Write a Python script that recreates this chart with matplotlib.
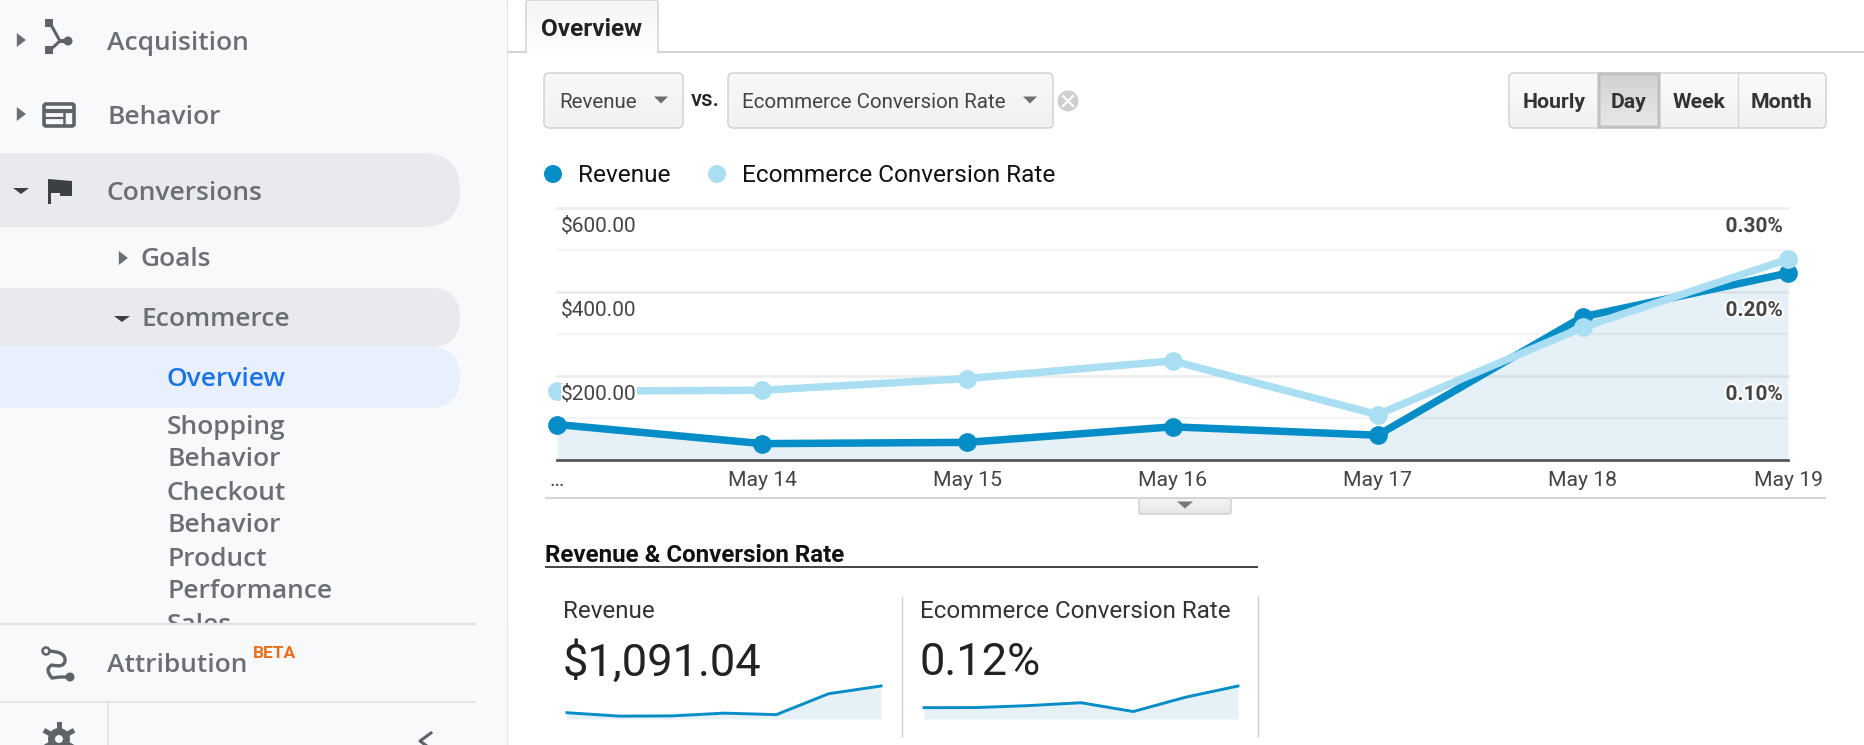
import matplotlib.colors as mcolors
import matplotlib.patheffects as pe
import matplotlib.pyplot as plt
import numpy as np
from matplotlib.patches import Circle, FancyBboxPatch, PathPatch, Polygon, Rectangle
from matplotlib.path import Path

plt.rcParams["font.family"] = ["Roboto", "DejaVu Sans"]

# Data
days = ["…", "May 14", "May 15", "May 16", "May 17", "May 18", "May 19"]
revenue = [84.5, 39, 42, 79, 59, 341, 445]
conv_rate = [0.082, 0.083, 0.097, 0.118, 0.054, 0.158, 0.239]
revenue_ticks = [200, 400, 600]
revenue_labels = ["$200.00", "$400.00", "$600.00"]
rate_ticks = [0.1, 0.2, 0.3]
rate_labels = ["0.10%", "0.20%", "0.30%"]
minor_ticks = [100, 300, 500]

BLUE = "#058dc7"
LIGHT = "#aadff3"
FILL = "#e5f1f7"
SIDE = "#f8f9fa"
SIDE_TXT = "#6b6e72"
W, H = 1865, 745

fig = plt.figure(figsize=(W / 100, H / 100), dpi=100, facecolor="white")

# Background axes in pixel coordinates, for the page around the chart
bg = fig.add_axes([0, 0, 1, 1])
bg.set_xlim(0, W)
bg.set_ylim(H, 0)
bg.axis("off")


def rect(x0, y0, x1, y1, color, z=1):
    bg.add_patch(Rectangle((x0, y0), x1 - x0, y1 - y0, fc=color, ec="none", zorder=z))


def hline(x0, x1, y, color="#cccccc", lw=1.0, z=3):
    bg.plot([x0, x1], [y, y], color=color, lw=lw, zorder=z, solid_capstyle="butt")


def vline(x, y0, y1, color="#cccccc", lw=1.0, z=3):
    bg.plot([x, x], [y0, y1], color=color, lw=lw, zorder=z, solid_capstyle="butt")


def pill(y0, y1, color, right=460):
    r = (y1 - y0) / 2
    rect(0, y0, right - r, y1, color, z=2)
    bg.add_patch(
        FancyBboxPatch(
            (right - 2 * r, y0), 2 * r, y1 - y0,
            boxstyle=f"round,pad=0,rounding_size={r}", fc=color, ec="none", zorder=2,
        )
    )


def tri_right(x, y, color="#6b6e72", s=7):
    bg.add_patch(Polygon([(x - s * 0.6, y - s), (x + s * 0.7, y), (x - s * 0.6, y + s)], fc=color, ec="none", zorder=8))


def tri_down(x, y, color="#3c4043", s=8, h=6):
    bg.add_patch(Polygon([(x - s, y - h / 2), (x + s, y - h / 2), (x, y + h / 2)], fc=color, ec="none", zorder=8))


def gradient_box(x0, y0, x1, y1, top="#ffffff", bottom="#f1f1f1", edge="#cfcfcf", r=5, lw=1.0):
    box = FancyBboxPatch(
        (x0, y0), x1 - x0, y1 - y0, boxstyle=f"round,pad=0,rounding_size={r}",
        fc="none", ec=edge, lw=lw, zorder=5,
    )
    bg.add_patch(box)
    shade = np.linspace(0, 1, 32).reshape(-1, 1)
    c0 = np.array(mcolors.to_rgb(top))
    c1 = np.array(mcolors.to_rgb(bottom))
    img = c0 + (c1 - c0) * shade[..., None]
    im = bg.imshow(img, extent=(x0, x1, y1, y0), aspect="auto", zorder=4)
    im.set_clip_path(box)
    bg.set_xlim(0, W)
    bg.set_ylim(H, 0)


# Sidebar
rect(0, 0, 507, H, SIDE)
vline(507, 0, H, "#e4e6e8")
pill(153, 227, "#e8eaed")
pill(288, 347, "#e8eaed")
pill(347, 408, "#e8f0fe")

side_items = [
    ("Acquisition", 107, 43),
    ("Behavior", 107, 117),
    ("Conversions", 107, 193),
    ("Goals", 141, 260),
    ("Ecommerce", 141, 320),
    ("Shopping", 167, 428),
    ("Behavior", 167, 460),
    ("Checkout", 167, 493),
    ("Behavior", 167, 526),
    ("Product", 167, 559),
    ("Performance", 167, 592),
    ("Sales", 167, 625),
]
for label, x, y in side_items:
    bg.text(x, y, label, fontsize=19, color=SIDE_TXT, va="center", family="Open Sans", weight=600, zorder=3)
bg.text(167, 380, "Overview", fontsize=19, color="#1a73e8", va="center", family="Open Sans", weight=600, zorder=3)

# Covers the bottom of the scrolled list
rect(0, 624, 507, H, SIDE, z=4)
hline(0, 476, 624, "#dfe1e3", 1.6, z=5)
hline(0, 476, 702, "#dfe1e3", 1.2, z=5)
vline(108, 702, H, "#dfe1e3", 1.2, z=5)
bg.text(107, 666, "Attribution", fontsize=19, color=SIDE_TXT, va="center", family="Open Sans", weight=600, zorder=6)
bg.text(253, 653, "BETA", fontsize=12.5, color="#e8711a", va="center", weight="bold", zorder=6)

tri_right(21, 40)
tri_right(21, 114)
tri_down(21, 191)
tri_right(123, 258)
tri_down(122, 319)

# Acquisition icon
bg.add_patch(Rectangle((45, 19), 8, 8, fc="#5f6368", zorder=4))
bg.add_patch(Rectangle((45, 46), 8, 8, fc="#5f6368", zorder=4))
bg.add_patch(Circle((68, 41), 4.5, fc="#5f6368", zorder=4))
bg.plot([50, 60, 68, 60, 50], [23, 41, 41, 41, 50], color="#5f6368", lw=2.2, zorder=4)
# Behavior icon
bg.add_patch(FancyBboxPatch((44, 104), 30, 22, boxstyle="round,pad=0,rounding_size=2", fc="none", ec="#5f6368", lw=2.6, zorder=4))
hline(44, 74, 111, "#5f6368", 3, z=4)
hline(45, 64, 118, "#5f6368", 1.6, z=4)
vline(64, 111, 125, "#5f6368", 1.8, z=4)
# Flag icon
bg.add_patch(Polygon([(48, 179), (72, 181), (72, 196), (60, 196), (60, 193), (51, 193), (51, 204), (48, 204)], fc="#3c4043", ec="none", zorder=4))
# Attribution icon
route = Path(
    [(47, 651), (66, 651), (65, 661), (64, 668), (52, 665), (44, 669), (52, 678), (60, 677), (68, 677)],
    [Path.MOVETO, Path.CURVE3, Path.CURVE3, Path.CURVE3, Path.CURVE3, Path.CURVE3, Path.CURVE3, Path.LINETO, Path.LINETO],
)
bg.add_patch(PathPatch(route, fc="none", ec="#5f6368", lw=2.4, zorder=6))
bg.add_patch(Circle((46, 651), 3.5, fc=SIDE, ec="#5f6368", lw=1.8, zorder=6))
bg.add_patch(Circle((70, 677), 4.5, fc="#5f6368", ec="none", zorder=6))
# Gear and collapse chevron
bg.add_patch(Circle((59, 739), 11, fc="#5f6368", ec="none", zorder=6))
bg.add_patch(Circle((59, 739), 4, fc=SIDE, ec="none", zorder=6))
for a in np.arange(0, 2 * np.pi, np.pi / 3):
    bg.plot([59, 59 + 15 * np.sin(a)], [739, 739 - 15 * np.cos(a)], color="#5f6368", lw=3.6, zorder=5)
bg.plot([431, 420, 431], [733, 741, 749], color="#5f6368", lw=2.2, zorder=6)

# Tab strip
hline(507, W, 52, "#cccccc", 1.2)
gradient_box(526, 0, 658, 60, top="#f5f5f5", bottom="#ffffff", r=3)
rect(525, 53, 659, 62, "white", z=6)
bg.text(591, 30, "Overview", fontsize=17.6, weight="bold", color="#222222", ha="center", va="center", zorder=7)

# Metric selectors
gradient_box(544, 73, 683, 128, top="#f8f8f8", bottom="#f1f1f1")
bg.text(559, 103, "Revenue", fontsize=14.8, color="#444444", va="center", zorder=7)
tri_down(661, 100, "#6e6e6e", s=7, h=7)
bg.text(691, 100, "vs.", fontsize=16, color="#222222", va="center", weight=500, zorder=7)
gradient_box(728, 73, 1053, 128, top="#f8f8f8", bottom="#f1f1f1")
bg.text(742, 103, "Ecommerce Conversion Rate", fontsize=14.8, color="#444444", va="center", zorder=7)
tri_down(1030, 100, "#6e6e6e", s=7, h=7)
bg.add_patch(Circle((1068, 101), 10.5, fc="#cfcfcf", ec="none", zorder=6))
bg.plot([1063, 1073], [96, 106], color="white", lw=1.6, zorder=7)
bg.plot([1063, 1073], [106, 96], color="white", lw=1.6, zorder=7)

# Time range buttons
gradient_box(1509, 73, 1826, 128, top="#fbfbfb", bottom="#f1f1f1")
gradient_box(1599, 74, 1659, 127, top="#d2d2d2", bottom="#e8e8e8", edge="#c0c0c0", r=0, lw=2.2)
vline(1738, 74, 127, "#d8d8d8", 1.0, z=6)
for label, x in [("Hourly", 1554), ("Day", 1629), ("Week", 1699), ("Month", 1782)]:
    bg.text(x, 103, label, fontsize=15.3, weight="bold", color="#333333", ha="center", va="center", zorder=7)

# Legend
bg.add_patch(Circle((553, 174), 9, fc=BLUE, ec="none", zorder=4))
bg.text(578, 176, "Revenue", fontsize=17.6, color="#111111", va="center", zorder=4)
bg.add_patch(Circle((717, 174), 9, fc=LIGHT, ec="none", zorder=4))
bg.text(742, 176, "Ecommerce Conversion Rate", fontsize=17.6, color="#111111", va="center", zorder=4)

# Under the chart
hline(545, 1826, 498, "#cccccc", 1.2)
gradient_box(1139, 486, 1231, 514, top="#ffffff", bottom="#e6e6e6", edge="#cfcfcf", r=2)
rect(1138, 480, 1232, 498, "white", z=6)
hline(1139, 1231, 498, "#cccccc", 1.2, z=7)
tri_down(1185, 505, "#777777", s=8, h=7)

# Scorecards
bg.text(545, 555, "Revenue & Conversion Rate", fontsize=17.4, weight="bold", color="#111111", va="center")
hline(545, 1258, 567, "#111111", 1.1)
vline(902, 596, 737)
vline(1258, 596, 737)
bg.text(563, 612, "Revenue", fontsize=17.4, color="#333333", va="center")
bg.text(920, 612, "Ecommerce Conversion Rate", fontsize=17.4, color="#333333", va="center")
bg.text(563, 663, "$1,091.04", fontsize=32.6, color="#222222", va="center")
bg.text(920, 663, "0.12%", fontsize=32.6, color="#222222", va="center")


def axes_px(x0, y0, x1, y1):
    ax = fig.add_axes([x0 / W, 1 - y1 / H, (x1 - x0) / W, (y1 - y0) / H])
    ax.patch.set_alpha(0)
    return ax


# Main chart
ax = axes_px(557, 208, 1788, 460)
x = np.arange(len(days))
ax.set_xlim(0, 6)
ax.set_ylim(0, 600)
ax.fill_between(x, revenue, color=FILL, lw=0, zorder=1)
for v in revenue_ticks:
    ax.axhline(v, color="#8a8a8a", alpha=0.16, lw=1.8, zorder=2, clip_on=False)
for v in minor_ticks:
    ax.axhline(v, color="#8a8a8a", alpha=0.10, lw=1.5, zorder=2)
ax.plot(x, revenue, color=BLUE, lw=5.4, marker="o", ms=13.5, mew=0, zorder=3, clip_on=False, solid_joinstyle="round")
for s in ax.spines.values():
    s.set_visible(False)
ax.spines["bottom"].set_visible(True)
ax.spines["bottom"].set_color("#555555")
ax.spines["bottom"].set_linewidth(2)
ax.set_yticks([])
ax.set_xticks(x, days)
ax.tick_params(axis="x", length=0, pad=8, labelsize=15.3, labelcolor="#444444")

rate_ax = ax.twinx()
rate_ax.patch.set_alpha(0)
rate_ax.set_ylim(0, 0.3)
rate_ax.plot(x, conv_rate, color=LIGHT, lw=5.4, marker="o", ms=13.5, mew=0, zorder=3, clip_on=False, solid_joinstyle="round")
rate_ax.set_yticks([])
for s in rate_ax.spines.values():
    s.set_visible(False)

halo = [pe.withStroke(linewidth=3, foreground="white")]
for v, label in zip(rate_ticks, rate_labels):
    rate_ax.annotate(
        label, (6, v), xytext=(-3.5, -6.5), textcoords="offset points", ha="right", va="top",
        fontsize=15, weight="bold", color="#444444", path_effects=halo, zorder=6,
    )
for v, label in zip(revenue_ticks, revenue_labels):
    rate_ax.annotate(
        label, (0, v / 2000), xytext=(3, -6.5), textcoords="offset points", ha="left", va="top",
        fontsize=15, color="#444444", zorder=6,
        bbox=dict(fc="white", ec="none", pad=0.5, alpha=1.0 if v == 200 else 0.0),
    )

# Sparklines
spark_rev = axes_px(567, 686, 881, 719)
spark_rate = axes_px(924, 686, 1238, 719)
for spark, values in [(spark_rev, revenue), (spark_rate, conv_rate)]:
    spark.set_xlim(0, 6)
    spark.set_ylim(0, max(values))
    spark.fill_between(x, values, color=FILL, lw=0)
    spark.plot(x, values, color=BLUE, lw=2.1, clip_on=False)
    spark.axis("off")

fig.savefig("out.png", dpi=100)
